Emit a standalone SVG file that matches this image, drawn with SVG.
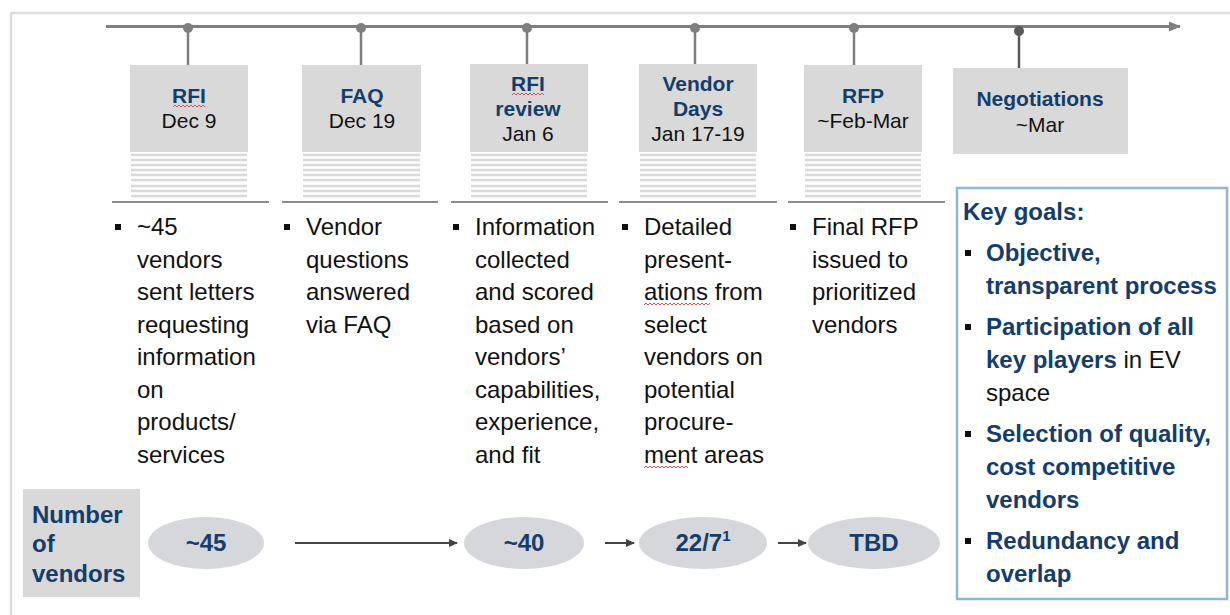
<svg xmlns="http://www.w3.org/2000/svg" width="1230" height="615" viewBox="0 0 1230 615">
<defs>
<style>
.frame{stroke:#dddddd;stroke-width:2.5;fill:none}
.tl{stroke:#7f7f7f;stroke-width:3;fill:none}
.stem{stroke:#7f7f7f;stroke-width:2.5}
.dot{fill:#7f7f7f}
.box{fill:#d9d9d9}
.stripe{stroke:#d9d9d9;stroke-width:2.5}
.sep{stroke:#8c8c8c;stroke-width:2}
.hd{font-family:"Liberation Sans",Arial,sans-serif;font-size:21px;font-weight:bold;fill:#143d6b;text-anchor:middle}
.dt{font-family:"Liberation Sans",Arial,sans-serif;font-size:21px;fill:#111;text-anchor:middle}
.body{font-family:"Liberation Sans",Arial,sans-serif;font-size:24px;fill:#111}
.kb{font-family:"Liberation Sans",Arial,sans-serif;font-size:24px;font-weight:bold;fill:#143d6b}
.kn{font-weight:normal;fill:#111}
.bul{fill:#111}
.ell{fill:#d5d7db}
.num{font-family:"Liberation Sans",Arial,sans-serif;font-size:24px;font-weight:bold;fill:#143d6b;text-anchor:middle}
.arr{stroke:#404548;stroke-width:2;fill:none}
.sq{stroke:#e05050;stroke-width:1;fill:none}
</style>
<marker id="ah" markerWidth="10" markerHeight="10" refX="8" refY="5" orient="auto" markerUnits="userSpaceOnUse">
<path d="M0,1 L9,5 L0,9 Z" fill="#404548"/>
</marker>
<marker id="tah" markerWidth="14" markerHeight="14" refX="11" refY="6" orient="auto" markerUnits="userSpaceOnUse">
<path d="M0,1 L12,6 L0,11 Z" fill="#7f7f7f"/>
</marker>
</defs>

<g id="frame">
<line class="frame" x1="10" y1="13" x2="1230" y2="13"/>
<line class="frame" x1="11" y1="12" x2="11" y2="615"/>
</g>

<g id="timeline">
<line class="tl" x1="106" y1="26.5" x2="1180" y2="26.5" marker-end="url(#tah)"/>
</g>

<g id="node-rfi">
<line class="stem" x1="188" y1="28" x2="188" y2="65"/>
<circle class="dot" cx="188" cy="28" r="5"/>
<rect class="box" x="130" y="65" width="118" height="87"/>
<text class="hd" x="189" y="103">RFI</text>
<path class="sq" d="M173,107 l2,-2 l2,2 l2,-2 l2,2 l2,-2 l2,2 l2,-2 l2,2 l2,-2 l2,2 l2,-2 l2,2 l2,-2 l2,2 l2,-2 l2,2"/>
<text class="dt" x="189" y="128">Dec 9</text>
<g><line class="stripe" x1="131" y1="155" x2="247" y2="155"/><line class="stripe" x1="131" y1="160" x2="247" y2="160"/><line class="stripe" x1="131" y1="165" x2="247" y2="165"/><line class="stripe" x1="131" y1="170" x2="247" y2="170"/><line class="stripe" x1="131" y1="175" x2="247" y2="175"/><line class="stripe" x1="131" y1="180" x2="247" y2="180"/><line class="stripe" x1="131" y1="186" x2="247" y2="186"/><line class="stripe" x1="131" y1="191" x2="247" y2="191"/><line class="stripe" x1="131" y1="196" x2="247" y2="196"/></g>
<line class="sep" x1="112" y1="202" x2="269" y2="202"/>
<rect class="bul" x="115" y="224" width="6" height="6"/>
<text class="body" x="137" y="235">~45</text>
<text class="body" x="137" y="268">vendors</text>
<text class="body" x="137" y="300">sent letters</text>
<text class="body" x="137" y="333">requesting</text>
<text class="body" x="137" y="365">information</text>
<text class="body" x="137" y="398">on</text>
<text class="body" x="137" y="430">products/</text>
<text class="body" x="137" y="463">services</text>
</g>

<g id="node-faq">
<line class="stem" x1="361" y1="28" x2="361" y2="65"/>
<circle class="dot" cx="361" cy="28" r="5"/>
<rect class="box" x="302" y="65" width="119" height="87"/>
<text class="hd" x="362" y="103">FAQ</text>
<text class="dt" x="362" y="128">Dec 19</text>
<g><line class="stripe" x1="303" y1="155" x2="420" y2="155"/><line class="stripe" x1="303" y1="160" x2="420" y2="160"/><line class="stripe" x1="303" y1="165" x2="420" y2="165"/><line class="stripe" x1="303" y1="170" x2="420" y2="170"/><line class="stripe" x1="303" y1="175" x2="420" y2="175"/><line class="stripe" x1="303" y1="180" x2="420" y2="180"/><line class="stripe" x1="303" y1="186" x2="420" y2="186"/><line class="stripe" x1="303" y1="191" x2="420" y2="191"/><line class="stripe" x1="303" y1="196" x2="420" y2="196"/></g>
<line class="sep" x1="282" y1="202" x2="438" y2="202"/>
<rect class="bul" x="284" y="224" width="6" height="6"/>
<text class="body" x="306" y="235">Vendor</text>
<text class="body" x="306" y="268">questions</text>
<text class="body" x="306" y="300">answered</text>
<text class="body" x="306" y="333">via FAQ</text>
</g>

<g id="node-rfi-review">
<line class="stem" x1="527" y1="28" x2="527" y2="64"/>
<circle class="dot" cx="527" cy="28" r="5"/>
<rect class="box" x="470" y="64" width="118" height="88"/>
<text class="hd" x="528" y="91">RFI</text>
<path class="sq" d="M512,95 l2,-2 l2,2 l2,-2 l2,2 l2,-2 l2,2 l2,-2 l2,2 l2,-2 l2,2 l2,-2 l2,2 l2,-2 l2,2 l2,-2 l2,2"/>
<text class="hd" x="528" y="116">review</text>
<text class="dt" x="528" y="141">Jan 6</text>
<g><line class="stripe" x1="471" y1="155" x2="587" y2="155"/><line class="stripe" x1="471" y1="160" x2="587" y2="160"/><line class="stripe" x1="471" y1="165" x2="587" y2="165"/><line class="stripe" x1="471" y1="170" x2="587" y2="170"/><line class="stripe" x1="471" y1="175" x2="587" y2="175"/><line class="stripe" x1="471" y1="180" x2="587" y2="180"/><line class="stripe" x1="471" y1="186" x2="587" y2="186"/><line class="stripe" x1="471" y1="191" x2="587" y2="191"/><line class="stripe" x1="471" y1="196" x2="587" y2="196"/></g>
<line class="sep" x1="451" y1="202" x2="608" y2="202"/>
<rect class="bul" x="453" y="224" width="6" height="6"/>
<text class="body" x="475" y="235">Information</text>
<text class="body" x="475" y="268">collected</text>
<text class="body" x="475" y="300">and scored</text>
<text class="body" x="475" y="333">based on</text>
<text class="body" x="475" y="365">vendors’</text>
<text class="body" x="475" y="398">capabilities,</text>
<text class="body" x="475" y="430">experience,</text>
<text class="body" x="475" y="463">and fit</text>
</g>

<g id="node-vendor-days">
<line class="stem" x1="695" y1="28" x2="695" y2="64"/>
<circle class="dot" cx="695" cy="28" r="5"/>
<rect class="box" x="639" y="64" width="118" height="88"/>
<text class="hd" x="698" y="91">Vendor</text>
<text class="hd" x="698" y="116">Days</text>
<text class="dt" x="698" y="141">Jan 17-19</text>
<g><line class="stripe" x1="640" y1="155" x2="756" y2="155"/><line class="stripe" x1="640" y1="160" x2="756" y2="160"/><line class="stripe" x1="640" y1="165" x2="756" y2="165"/><line class="stripe" x1="640" y1="170" x2="756" y2="170"/><line class="stripe" x1="640" y1="175" x2="756" y2="175"/><line class="stripe" x1="640" y1="180" x2="756" y2="180"/><line class="stripe" x1="640" y1="186" x2="756" y2="186"/><line class="stripe" x1="640" y1="191" x2="756" y2="191"/><line class="stripe" x1="640" y1="196" x2="756" y2="196"/></g>
<line class="sep" x1="619" y1="202" x2="777" y2="202"/>
<rect class="bul" x="622" y="224" width="6" height="6"/>
<text class="body" x="644" y="235">Detailed</text>
<text class="body" x="644" y="268">present-</text>
<text class="body" x="644" y="300">ations from</text>
<path class="sq" d="M644,305 l2,-2 l2,2 l2,-2 l2,2 l2,-2 l2,2 l2,-2 l2,2 l2,-2 l2,2 l2,-2 l2,2 l2,-2 l2,2 l2,-2 l2,2 l2,-2 l2,2 l2,-2 l2,2 l2,-2 l2,2 l2,-2 l2,2 l2,-2 l2,2 l2,-2 l2,2 l2,-2 l2,2 l2,-2 l2,2 l2,-2"/>
<text class="body" x="644" y="333">select</text>
<text class="body" x="644" y="365">vendors on</text>
<text class="body" x="644" y="398">potential</text>
<text class="body" x="644" y="430">procure-</text>
<text class="body" x="644" y="463">ment areas</text>
<path class="sq" d="M644,468 l2,-2 l2,2 l2,-2 l2,2 l2,-2 l2,2 l2,-2 l2,2 l2,-2 l2,2 l2,-2 l2,2 l2,-2 l2,2 l2,-2 l2,2 l2,-2 l2,2 l2,-2 l2,2 l2,-2 l2,2"/>
</g>

<g id="node-rfp">
<line class="stem" x1="854" y1="28" x2="854" y2="65"/>
<circle class="dot" cx="854" cy="28" r="5"/>
<rect class="box" x="804" y="65" width="118" height="87"/>
<text class="hd" x="863" y="103">RFP</text>
<text class="dt" x="863" y="128">~Feb-Mar</text>
<g><line class="stripe" x1="805" y1="155" x2="921" y2="155"/><line class="stripe" x1="805" y1="160" x2="921" y2="160"/><line class="stripe" x1="805" y1="165" x2="921" y2="165"/><line class="stripe" x1="805" y1="170" x2="921" y2="170"/><line class="stripe" x1="805" y1="175" x2="921" y2="175"/><line class="stripe" x1="805" y1="180" x2="921" y2="180"/><line class="stripe" x1="805" y1="186" x2="921" y2="186"/><line class="stripe" x1="805" y1="191" x2="921" y2="191"/><line class="stripe" x1="805" y1="196" x2="921" y2="196"/></g>
<line class="sep" x1="788" y1="202" x2="945" y2="202"/>
<rect class="bul" x="790" y="224" width="6" height="6"/>
<text class="body" x="812" y="235">Final RFP</text>
<text class="body" x="812" y="268">issued to</text>
<text class="body" x="812" y="300">prioritized</text>
<text class="body" x="812" y="333">vendors</text>
</g>

<g id="node-negotiations">
<line class="stem" x1="1019" y1="31" x2="1019" y2="68" style="stroke:#595959"/>
<circle class="dot" cx="1019" cy="31" r="5" style="fill:#595959"/>
<rect class="box" x="953" y="68" width="175" height="86"/>
<text class="hd" x="1040" y="106">Negotiations</text>
<text class="dt" x="1040" y="132">~Mar</text>
</g>

<g id="node-key-goals">
<rect x="957" y="188" width="270" height="411" fill="#fff" stroke="#8db8cf" stroke-width="2.5"/>
<text class="kb" x="963" y="220">Key goals:</text>
<rect class="bul" x="965" y="250" width="6" height="6"/>
<text class="kb" x="986" y="261">Objective,</text>
<text class="kb" x="986" y="294">transparent process</text>
<rect class="bul" x="965" y="324" width="6" height="6"/>
<text class="kb" x="986" y="335">Participation of all</text>
<text class="kb" x="986" y="368">key players<tspan class="kn"> in EV</tspan></text>
<text class="kb" x="986" y="401"><tspan class="kn">space</tspan></text>
<rect class="bul" x="965" y="431" width="6" height="6"/>
<text class="kb" x="986" y="442">Selection of quality,</text>
<text class="kb" x="986" y="475">cost competitive</text>
<text class="kb" x="986" y="508">vendors</text>
<rect class="bul" x="965" y="538" width="6" height="6"/>
<text class="kb" x="986" y="549">Redundancy and</text>
<text class="kb" x="986" y="582">overlap</text>
</g>

<g id="node-number-label">
<rect class="box" x="23" y="489" width="117" height="108"/>
<text class="kb" x="32" y="523">Number</text>
<text class="kb" x="32" y="552">of</text>
<text class="kb" x="32" y="582">vendors</text>
</g>

<g id="node-n45">
<ellipse class="ell" cx="206" cy="543" rx="58" ry="26"/>
<text class="num" x="206" y="551">~45</text>
</g>
<g id="node-n40">
<ellipse class="ell" cx="524" cy="543" rx="60" ry="26"/>
<text class="num" x="524" y="551">~40</text>
</g>
<g id="node-n22">
<ellipse class="ell" cx="703" cy="543" rx="64" ry="26"/>
<text class="num" x="703" y="551">22/7<tspan font-size="15" dy="-10">1</tspan></text>
</g>
<g id="node-tbd">
<ellipse class="ell" cx="874" cy="543" rx="66" ry="26"/>
<text class="num" x="874" y="551">TBD</text>
</g>

<g id="connectors">
<line class="arr" x1="295" y1="543" x2="457" y2="543" marker-end="url(#ah)"/>
<line class="arr" x1="605" y1="543" x2="634" y2="543" marker-end="url(#ah)"/>
<line class="arr" x1="778" y1="543" x2="806" y2="543" marker-end="url(#ah)"/>
</g>
</svg>
